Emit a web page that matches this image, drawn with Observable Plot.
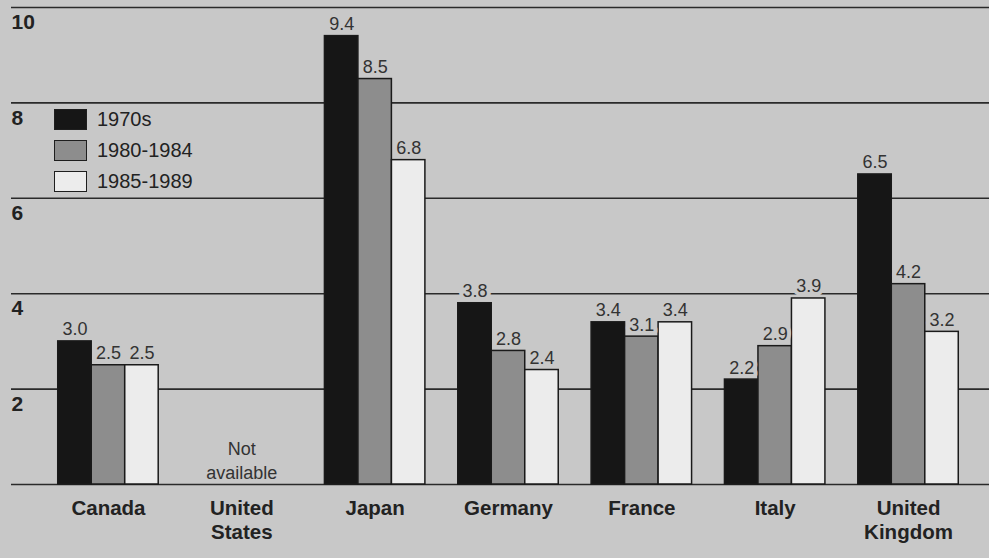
<!DOCTYPE html>
<html>
<head>
<meta charset="utf-8">
<script src="https://cdn.jsdelivr.net/npm/d3@7"></script>
<script src="https://cdn.jsdelivr.net/npm/@observablehq/plot@0.6"></script>
<style>
  html, body { margin: 0; padding: 0; background: #c8c8c8; }
  #chart { position: relative; width: 989px; height: 558px; font-family: "Liberation Sans", Arial, Helvetica, sans-serif; }
  #legend { position: absolute; left: 54px; top: 104px; }
  .row { display: flex; align-items: center; height: 31px; }
  .sw { width: 31px; height: 19px; border: 1.5px solid #1e1e1e; margin-right: 10px; }
  .lab { font-size: 20px; color: #222; }
</style>
</head>
<body>
<div id="chart"></div>
<script>
const countries = ["Canada", "United States", "Japan", "Germany", "France", "Italy", "United Kingdom"];
const periods = ["1970s", "1980-1984", "1985-1989"];
const v1970s   = [3.0, null, 9.4, 3.8, 3.4, 2.2, 6.5];
const v1980_84 = [2.5, null, 8.5, 2.8, 3.1, 2.9, 4.2];
const v1985_89 = [2.5, null, 6.8, 2.4, 3.4, 3.9, 3.2];
const yTicks = [2, 4, 6, 8, 10];
const naLabel = "Not\navailable";

const series = [v1970s, v1980_84, v1985_89];
const fills = ["#161616", "#8d8d8d", "#ececec"];
const offsets = [-33.5, 0, 33.5];
const bg = "#c8c8c8";

const rows = periods.flatMap((p, i) => countries.map((c, j) => ({country: c, period: p, value: series[i][j]})))
  .filter(d => d.value != null);
const naCountries = countries.filter((c, j) => series.every(s => s[j] == null));

const plot = Plot.plot({
  width: 989, height: 558,
  marginTop: 7, marginBottom: 74, marginLeft: 11, marginRight: 0,
  style: {background: "transparent", fontFamily: "'Liberation Sans', Arial, Helvetica, sans-serif", overflow: "visible"},
  x: {domain: countries, range: [41.3, 974.7], paddingInner: 0.749, paddingOuter: 0.3745, round: false},
  y: {domain: [0, 10], axis: null},
  color: {domain: periods, range: fills},
  marks: [
    Plot.ruleY([0, ...yTicks], {stroke: "#2a2a2a", strokeWidth: 1.6}),
    Plot.text(yTicks, {y: d => d, text: d => String(d), frameAnchor: "left", textAnchor: "start", lineAnchor: "middle", dy: 15, fontSize: 21, fontWeight: "bold", fill: "#222"}),
    ...periods.map((p, i) => Plot.barY(rows.filter(d => d.period === p), {
      x: "country", y: "value", fill: "period", stroke: "#1a1a1a", strokeWidth: 1.5, dx: offsets[i]
    })),
    ...periods.map((p, i) => Plot.text(rows.filter(d => d.period === p), {
      x: "country", y: "value", text: d => d.value.toFixed(1), dx: offsets[i], dy: -6,
      lineAnchor: "bottom", fontSize: 18, fill: "#333", stroke: bg, strokeWidth: 8, paintOrder: "stroke"
    })),
    Plot.text(naCountries, {x: d => d, y: () => 0, text: () => naLabel, lineAnchor: "bottom", dy: -6, fontSize: 18, lineHeight: 1.28, fill: "#333"}),
    Plot.axisX({tickSize: 0, tickPadding: 14, fontSize: 20.5, fontWeight: "bold", fill: "#222", label: null, lineHeight: 1.15, tickFormat: d => d.replace(" ", "\n")})
  ]
});

const chart = document.getElementById("chart");
chart.appendChild(plot);
const legend = document.createElement("div");
legend.id = "legend";
periods.forEach((p, i) => {
  const row = document.createElement("div");
  row.className = "row";
  const sw = document.createElement("div");
  sw.className = "sw";
  sw.style.background = fills[i];
  const lab = document.createElement("span");
  lab.className = "lab";
  lab.textContent = p;
  row.appendChild(sw); row.appendChild(lab);
  legend.appendChild(row);
});
chart.appendChild(legend);
</script>
</body>
</html>
